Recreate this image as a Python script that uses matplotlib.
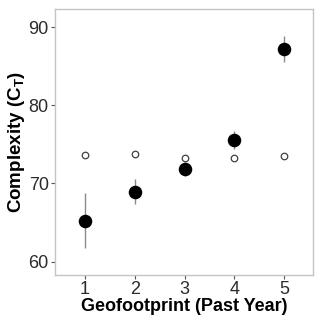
import matplotlib
matplotlib.use('Agg')
import matplotlib.pyplot as plt

plt.rcParams['font.family'] = ['Liberation Sans', 'DejaVu Sans']
plt.rcParams['mathtext.default'] = 'regular'

# 数据
geofootprint = [1, 2, 3, 4, 5]
complexity = [65.2, 68.9, 71.9, 75.5, 87.2]
err_low = [61.8, 67.4, 70.9, 74.4, 85.5]
err_high = [68.8, 70.6, 72.8, 76.7, 88.9]
null_complexity = [73.6, 73.8, 73.3, 73.2, 73.5]

fig = plt.figure(figsize=(3.15, 3.16), dpi=100)
ax = fig.add_axes([0.1746, 0.1297, 0.8191, 0.8418])

yerr = [[c - lo for c, lo in zip(complexity, err_low)],
        [hi - c for c, hi in zip(complexity, err_high)]]
ax.errorbar(geofootprint, complexity, yerr=yerr, fmt='none', ecolor='#8a8a8a',
            elinewidth=1, capsize=0, zorder=2)
ax.scatter(geofootprint, complexity, s=95, color='black', linewidths=0, zorder=3)
ax.scatter(geofootprint, null_complexity, s=22, facecolor='white',
           edgecolor='#404040', linewidths=0.9, zorder=3)

ax.set_xlim(0.4, 5.58)
ax.set_ylim(58.3, 92.3)
ax.set_xticks(geofootprint)
ax.set_yticks([60, 70, 80, 90])

for s in ax.spines.values():
    s.set_color('#c4c4c4')
    s.set_linewidth(1)
ax.tick_params(colors='#555555', labelcolor='#2b2b2b', labelsize=13, length=3,
               width=0.8, pad=1.5)

ax.set_xlabel('Geofootprint (Past Year)', fontsize=13, fontweight='bold', labelpad=0)
ax.set_ylabel('Complexity (C$_T$)', fontsize=13.5, fontweight='bold', labelpad=1)

plt.savefig('out.png', dpi=100)
